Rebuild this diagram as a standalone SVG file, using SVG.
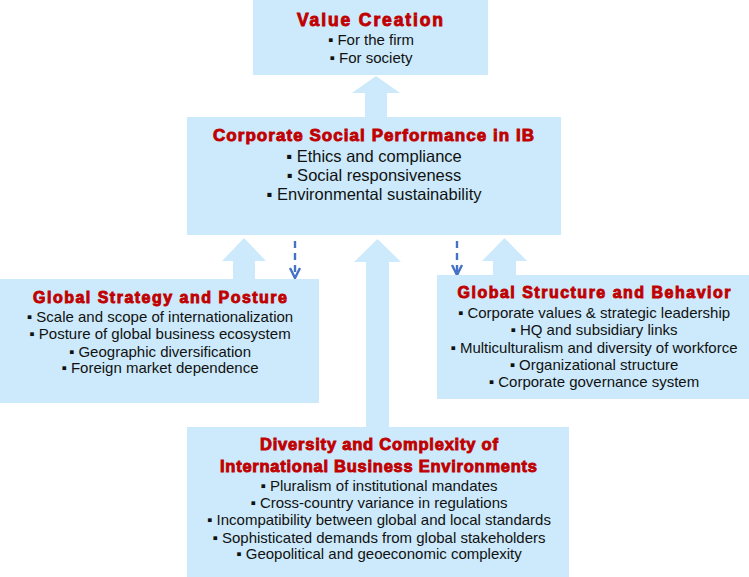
<svg xmlns="http://www.w3.org/2000/svg" width="749" height="577" viewBox="0 0 749 577">
<defs>
<style>
.box{fill:#CCEAFB;}
.arrow{fill:#CCEAFB;}
.title{font-family:"Liberation Sans",Arial,sans-serif;font-weight:bold;fill:#C00000;stroke:#C00000;stroke-width:0.9;text-anchor:middle;}
.item{font-family:"Liberation Sans",Arial,"DejaVu Sans",sans-serif;fill:#111;text-anchor:middle;font-size:15px;}
.dash{fill:none;stroke:#4472C4;stroke-width:2.4;}
</style>
</defs>
<rect width="749" height="577" fill="#fff"/>
<g id="connectors">
<polygon class="arrow" points="365,117 365,93 352,93 376,76 400,93 387,93 387,117"/>
<polygon class="arrow" points="233,279 233,261 222,261 244,238 266,261 255,261 255,279"/>
<polygon class="arrow" points="493,276 493,261 482,261 504.5,238 527,261 516,261 516,276"/>
<polygon class="arrow" points="366,428 366,262 354,262 377.5,239 401,262 389,262 389,428"/>
<line class="dash" x1="295" y1="241" x2="295" y2="277" stroke-dasharray="7 5"/>
<polyline class="dash" points="290,268 295,278 300,268"/>
<line class="dash" x1="457" y1="241" x2="457" y2="274" stroke-dasharray="7 5"/>
<polyline class="dash" points="452,265 457,275 462,265"/>
</g>
<g id="value-creation">
<rect class="box" x="253" y="0" width="235" height="75"/>
<text class="title" x="370" y="26" font-size="17.5" textLength="146" lengthAdjust="spacing">Value Creation</text>
<text class="item" x="371" y="45">▪ For the firm</text>
<text class="item" x="371" y="63">▪ For society</text>
</g>
<g id="csp">
<rect class="box" x="187" y="117" width="374" height="118"/>
<text class="title" x="373.5" y="141" font-size="17" textLength="321" lengthAdjust="spacing">Corporate Social Performance in IB</text>
<text class="item" x="374" y="162" style="font-size:16.5px">▪ Ethics and compliance</text>
<text class="item" x="374" y="181" style="font-size:16.5px">▪ Social responsiveness</text>
<text class="item" x="374" y="200" style="font-size:16.5px">▪ Environmental sustainability</text>
</g>
<g id="global-strategy">
<rect class="box" x="0" y="279" width="319" height="124"/>
<text class="title" x="160" y="303" font-size="16" textLength="254" lengthAdjust="spacing">Global Strategy and Posture</text>
<text class="item" x="160" y="322">▪ Scale and scope of internationalization</text>
<text class="item" x="160" y="339">▪ Posture of global business ecosystem</text>
<text class="item" x="160" y="357">▪ Geographic diversification</text>
<text class="item" x="160" y="373">▪ Foreign market dependence</text>
</g>
<g id="global-structure">
<rect class="box" x="437" y="275" width="312" height="124"/>
<text class="title" x="594" y="298" font-size="16" textLength="273" lengthAdjust="spacing">Global Structure and Behavior</text>
<text class="item" x="594" y="318">▪ Corporate values &amp; strategic leadership</text>
<text class="item" x="594" y="335">▪ HQ and subsidiary links</text>
<text class="item" x="594" y="353">▪ Multiculturalism and diversity of workforce</text>
<text class="item" x="594" y="370">▪ Organizational structure</text>
<text class="item" x="594" y="387">▪ Corporate governance system</text>
</g>
<g id="ib-environments">
<rect class="box" x="187" y="427" width="382" height="150"/>
<text class="title" x="379" y="450" font-size="16.5" textLength="238" lengthAdjust="spacing">Diversity and Complexity of</text>
<text class="title" x="378.5" y="472" font-size="16.5" textLength="317" lengthAdjust="spacing">International Business Environments</text>
<text class="item" x="379" y="491">▪ Pluralism of institutional mandates</text>
<text class="item" x="379" y="508">▪ Cross-country variance in regulations</text>
<text class="item" x="379" y="525">▪ Incompatibility between global and local standards</text>
<text class="item" x="379" y="543">▪ Sophisticated demands from global stakeholders</text>
<text class="item" x="379" y="559">▪ Geopolitical and geoeconomic complexity</text>
</g>
</svg>
